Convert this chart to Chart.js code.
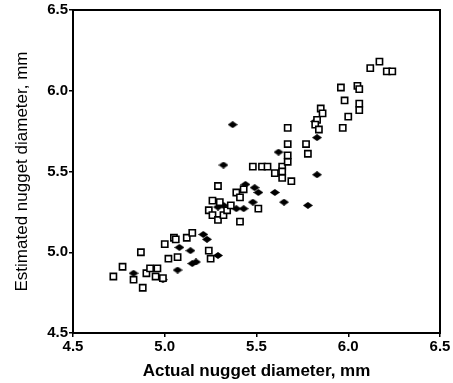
<!DOCTYPE html>
<html>
<head>
<meta charset="utf-8">
<script src="https://cdn.jsdelivr.net/npm/chart.js@4.4.0/dist/chart.umd.min.js"></script>
<style>
  html, body { margin: 0; padding: 0; background: #fff; }
  #wrap { width: 453px; height: 383px; }
</style>
</head>
<body>
<div id="wrap"><canvas id="chart" width="453" height="383"></canvas></div>
<script>
// open squares: actual vs estimated diameter (mm)
const squareX = [4.72, 4.77, 4.83, 4.88, 4.87, 4.90, 4.92, 4.96, 4.95, 4.99,
                 5.00, 5.05, 5.02, 5.07, 5.06, 5.12, 5.15, 5.24, 5.25, 5.26,
                 5.24, 5.26, 5.29, 5.32, 5.34, 5.36, 5.30, 5.29, 5.39, 5.43,
                 5.41, 5.41, 5.51, 5.48, 5.53, 5.56, 5.60, 5.64, 5.64, 5.67,
                 5.67, 5.64, 5.69, 5.78, 5.77, 5.67, 5.67, 5.85, 5.86, 5.83,
                 5.82, 5.84, 5.97, 6.00, 6.06, 6.06, 5.98, 5.96, 6.05, 6.06,
                 6.12, 6.17, 6.21, 6.24];
const squareY = [4.85, 4.91, 4.83, 4.78, 5.00, 4.87, 4.90, 4.90, 4.85, 4.84,
                 5.05, 5.09, 4.96, 4.97, 5.08, 5.09, 5.12, 5.01, 4.96, 5.32,
                 5.26, 5.23, 5.20, 5.23, 5.26, 5.29, 5.31, 5.41, 5.37, 5.39,
                 5.34, 5.19, 5.27, 5.53, 5.53, 5.53, 5.49, 5.53, 5.50, 5.56,
                 5.60, 5.46, 5.44, 5.61, 5.67, 5.67, 5.77, 5.89, 5.86, 5.82,
                 5.79, 5.76, 5.77, 5.84, 5.92, 5.88, 5.94, 6.02, 6.03, 6.01,
                 6.14, 6.18, 6.12, 6.12];

// filled diamonds
const diamondX = [4.83, 4.99, 5.07, 5.08, 5.14, 5.15, 5.17, 5.21, 5.23, 5.29,
                  5.32, 5.29, 5.39, 5.43, 5.48, 5.44, 5.49, 5.51, 5.32, 5.37,
                  5.60, 5.65, 5.78, 5.83, 5.62, 5.83, 5.82];
const diamondY = [4.87, 4.83, 4.89, 5.03, 5.01, 4.93, 4.94, 5.11, 5.08, 4.98,
                  5.29, 5.28, 5.27, 5.27, 5.31, 5.42, 5.40, 5.37, 5.54, 5.79,
                  5.37, 5.31, 5.29, 5.48, 5.62, 5.71, 5.81];

const axisTicks = [4.5, 5.0, 5.5, 6.0, 6.5];

// 描画領域 (px)
const PAD_LEFT = 12, PAD_BOTTOM = 0;
const AREA_LEFT = 73, AREA_BOTTOM = 333;

function toPoints(xs, ys) {
    return xs.map((x, i) => ({ x: x, y: ys[i] }));
}

// 横長のひし形マーカー
const diamond = document.createElement('canvas');
diamond.width = 10;
diamond.height = 7;
(function () {
    const c = diamond.getContext('2d');
    c.fillStyle = '#000';
    c.beginPath();
    c.moveTo(0, 3.5);
    c.lineTo(5, 0);
    c.lineTo(10, 3.5);
    c.lineTo(5, 7);
    c.closePath();
    c.fill();
})();

// 枠線プラグイン
const frame = {
    id: 'frame',
    afterDraw(chart) {
        const a = chart.chartArea;
        const ctx = chart.ctx;
        ctx.save();
        ctx.strokeStyle = '#000';
        ctx.lineWidth = 2;
        ctx.strokeRect(a.left, a.top, a.right - a.left, a.bottom - a.top);
        ctx.restore();
    }
};

const tickFont = { family: '"Liberation Sans", Arial, sans-serif', size: 15, weight: 'bold' };

new Chart(document.getElementById('chart'), {
    type: 'scatter',
    data: {
        datasets: [{
            label: 'squares',
            data: toPoints(squareX, squareY),
            pointStyle: 'rect',
            pointRadius: 4.4,
            pointBorderWidth: 1.6,
            pointBorderColor: '#000',
            pointBackgroundColor: '#fff'
        }, {
            label: 'diamonds',
            data: toPoints(diamondX, diamondY),
            pointStyle: diamond,
            pointRadius: 4,
            pointBorderWidth: 0,
            pointBackgroundColor: '#000'
        }]
    },
    options: {
        responsive: false,
        animation: false,
        events: [],
        layout: { padding: { left: PAD_LEFT, right: 13, top: 10, bottom: PAD_BOTTOM } },
        plugins: { legend: { display: false }, tooltip: { enabled: false } },
        scales: {
            x: {
                type: 'linear',
                min: 4.5,
                max: 6.5,
                afterBuildTicks: s => { s.ticks = axisTicks.map(v => ({ value: v })); },
                afterFit: s => { s.height = 383 - AREA_BOTTOM - PAD_BOTTOM; },
                ticks: {
                    color: '#000',
                    font: tickFont,
                    padding: 1,
                    maxRotation: 0,
                    callback: v => v.toFixed(1)
                },
                grid: { display: true, drawOnChartArea: false, drawTicks: true, tickLength: 4, color: '#000', lineWidth: 1.5 },
                border: { display: true, color: '#000', width: 2 },
                title: {
                    display: true,
                    text: 'Actual nugget diameter, mm',
                    color: '#000',
                    font: { family: '"Liberation Sans", Arial, sans-serif', size: 17, weight: 'bold' },
                    padding: { top: 2, bottom: 1 }
                }
            },
            y: {
                type: 'linear',
                min: 4.5,
                max: 6.5,
                afterBuildTicks: s => { s.ticks = axisTicks.map(v => ({ value: v })); },
                afterFit: s => { s.width = AREA_LEFT - PAD_LEFT; },
                ticks: {
                    color: '#000',
                    font: tickFont,
                    padding: 1,
                    callback: v => v.toFixed(1)
                },
                grid: { display: true, drawOnChartArea: false, drawTicks: true, tickLength: 4, color: '#000', lineWidth: 1.5 },
                border: { display: true, color: '#000', width: 2 },
                title: {
                    display: true,
                    text: 'Estimated nugget diameter, mm',
                    color: '#000',
                    font: { family: '"Liberation Sans", Arial, sans-serif', size: 17, weight: 'normal' },
                    padding: { top: 0, bottom: 4 }
                }
            }
        }
    },
    plugins: [frame]
});
</script>
</body>
</html>
